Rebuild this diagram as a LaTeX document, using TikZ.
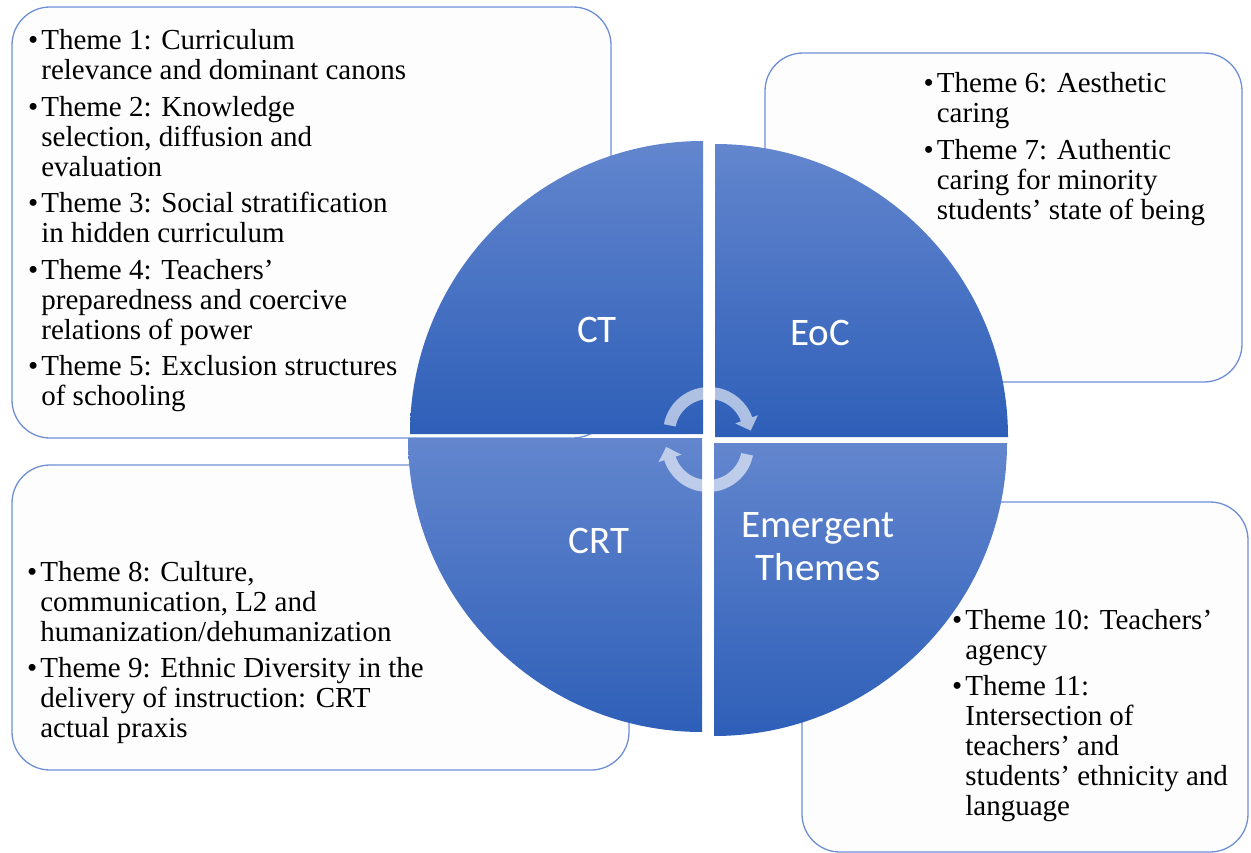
\documentclass[tikz,border=0pt]{standalone}
\usepackage{fontspec}
\setmainfont{Liberation Serif}
\newfontfamily\labelfont{Carlito}
\usetikzlibrary{calc}
\definecolor{boxline}{HTML}{6E8FD6}
\definecolor{boxfill}{HTML}{FDFDFD}
\definecolor{quadtop}{HTML}{6386CE}
\definecolor{quadbot}{HTML}{2E5FB8}
\newcommand\themesize{\fontsize{29}{30}\selectfont}
\begin{document}
\begin{tikzpicture}[x=1pt,y=-1pt,
  themebox/.style={draw=boxline, line width=1.3pt, fill=boxfill, rounded corners=38pt},
  quad/.style={top color=quadtop, bottom color=quadbot, draw=none},
  quadlabel/.style={text=white, font=\labelfont\fontsize{39}{43}\selectfont, inner sep=0pt, align=center},
  themetext/.style={anchor=base west, inner sep=0pt, font=\themesize, text=black},
  cyclearrow/.style={fill=white, fill opacity=0.6, draw=none}]

\useasboundingbox (0,0) rectangle (1251,853);
\fill[white] (0,0) rectangle (1251,853);

% theme boxes
\draw[themebox] (12,7) rectangle (611,438);
\draw[themebox] (765,53) rectangle (1242,382);
\draw[themebox] (12,465) rectangle (629,770);
\draw[themebox] (802,502) rectangle (1248,852);

% theme texts
\node[themetext] (t1) at (28,50) {\begin{tabular}[t]{@{}l@{\hspace{3pt}}l@{}}
\textbullet & Theme 1: Curriculum\\
 & relevance and dominant canons\\[6.5pt]
\textbullet & Theme 2: Knowledge\\
 & selection, diffusion and\\
 & evaluation\\[6.5pt]
\textbullet & Theme 3: Social stratification\\
 & in hidden curriculum\\[6.5pt]
\textbullet & Theme 4: Teachers’\\
 & preparedness and coercive\\
 & relations of power\\[6.5pt]
\textbullet & Theme 5: Exclusion structures\\
 & of schooling
\end{tabular}};

\node[themetext] (t2) at (923.5,93) {\begin{tabular}[t]{@{}l@{\hspace{3pt}}l@{}}
\textbullet & Theme 6: Aesthetic\\
 & caring\\[6.5pt]
\textbullet & Theme 7: Authentic\\
 & caring for minority\\
 & students’ state of being
\end{tabular}};

\node[themetext] (t3) at (27,581) {\begin{tabular}[t]{@{}l@{\hspace{3pt}}l@{}}
\textbullet & Theme 8: Culture,\\
 & communication, L2 and\\
 & humanization/dehumanization\\[6.5pt]
\textbullet & Theme 9: Ethnic Diversity in the\\
 & delivery of instruction: CRT\\
 & actual praxis
\end{tabular}};

\node[themetext] (t4) at (952,629) {\begin{tabular}[t]{@{}l@{\hspace{3pt}}l@{}}
\textbullet & Theme 10: Teachers’\\
 & agency\\[6.5pt]
\textbullet & Theme 11:\\
 & Intersection of\\
 & teachers’ and\\
 & students’ ethnicity and\\
 & language
\end{tabular}};

% quadrants
\path[quad] (703,434) -- (410,434) arc[start angle=180, end angle=270, radius=293] -- cycle;
\path[quad] (715,437) -- (715,144) arc[start angle=270, end angle=360, radius=293] -- cycle;
\path[quad] (702,438) -- (408,438) arc[start angle=180, end angle=90, radius=294] -- cycle;
\path[quad] (714,443) -- (1007,443) arc[start angle=0, end angle=90, radius=293] -- cycle;

% cycle arrows
\coordinate (O1) at (709,433);
\coordinate (O2) at (708,446);
\fill[cyclearrow] ($(O1)+(191:46)$) arc[start angle=191, end angle=340, radius=46]
  -- ($(O1)+(340:52)$) -- ($(O1)+(340:40)+(70:12)$) -- ($(O1)+(340:28)$)
  -- ($(O1)+(340:34)$) arc[start angle=340, end angle=191, radius=34] -- cycle;
\fill[cyclearrow] ($(O2)+(12:46)$) arc[start angle=12, end angle=162, radius=46]
  -- ($(O2)+(162:52)$) -- ($(O2)+(162:40)+(252:12)$) -- ($(O2)+(162:28)$)
  -- ($(O2)+(162:34)$) arc[start angle=162, end angle=12, radius=34] -- cycle;

% quadrant labels
\node[quadlabel] (ct) at (597,330) {CT};
\node[quadlabel] (eoc) at (820,333) {EoC};
\node[quadlabel] (crt) at (599,541) {CRT};
\node[quadlabel] (emg) at (818,547) {Emergent\\Themes};
\end{tikzpicture}
\end{document}
